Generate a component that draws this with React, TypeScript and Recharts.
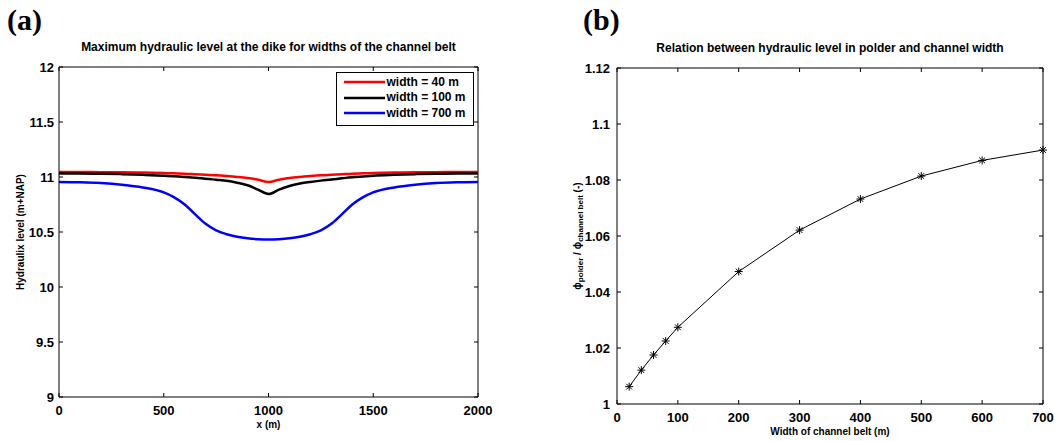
import React from 'react'
import { LineChart, Line, XAxis, YAxis, Legend, Label, ReferenceLine } from 'recharts'

// panel (a): hydraulic level along the dike
const dikeX = [0, 100, 200, 300, 400, 500, 550, 600, 650, 700, 750, 800, 850, 900, 950, 1000, 1050, 1100, 1150, 1200, 1250, 1300, 1350, 1400, 1450, 1500, 1600, 1700, 1800, 1900, 2000]
const level40 = [11.045, 11.045, 11.044, 11.043, 11.04, 11.036, 11.033, 11.03, 11.025, 11.02, 11.015, 11.008, 11.0, 10.99, 10.975, 10.955, 10.975, 10.99, 11.0, 11.008, 11.015, 11.02, 11.025, 11.03, 11.033, 11.036, 11.04, 11.043, 11.044, 11.045, 11.045]
const level100 = [11.032, 11.032, 11.03, 11.026, 11.02, 11.012, 11.006, 11.0, 10.993, 10.985, 10.975, 10.965, 10.948, 10.925, 10.885, 10.845, 10.885, 10.918, 10.94, 10.955, 10.967, 10.977, 10.988, 10.998, 11.005, 11.012, 11.02, 11.026, 11.03, 11.032, 11.032]
const level700 = [10.955, 10.952, 10.945, 10.93, 10.905, 10.86, 10.815, 10.75, 10.66, 10.575, 10.515, 10.48, 10.457, 10.443, 10.435, 10.432, 10.435, 10.443, 10.457, 10.48, 10.515, 10.575, 10.66, 10.75, 10.815, 10.86, 10.905, 10.93, 10.945, 10.952, 10.955]
const levelTicks = [9, 9.5, 10, 10.5, 11, 11.5, 12]
const dikeTicks = [0, 500, 1000, 1500, 2000]
const seriesNames = ['width = 40 m', 'width = 100 m', 'width = 700 m']

// panel (b): ratio vs channel belt width
const beltWidths = [20, 40, 60, 80, 100, 200, 300, 400, 500, 600, 700]
const levelRatio = [1.0062, 1.0121, 1.0175, 1.0225, 1.0274, 1.0473, 1.0621, 1.0732, 1.0814, 1.087, 1.0907]
const ratioTicks = [1, 1.02, 1.04, 1.06, 1.08, 1.1, 1.12]
const widthTicks = [0, 100, 200, 300, 400, 500, 600, 700]

const dikeData = dikeX.map((x, i) => ({ x, w40: level40[i], w100: level100[i], w700: level700[i] }))
const ratioData = beltWidths.map((w, i) => ({ w, r: levelRatio[i] }))

const FONT = '"Liberation Sans", Arial, Helvetica, sans-serif'
const tickStyle = { fill: '#000', fontSize: 13, fontWeight: 'bold', fontFamily: FONT } as const
const titleStyle = { fill: '#000', fontSize: 12, fontWeight: 'bold', fontFamily: FONT } as const
const fmt = (v: number) => String(+v.toFixed(2))
const TICK = 4

// matlab style ticks: short marks pointing into the plot box
function BottomTick({ x, y, payload, gap }: any) {
  const ay = y - gap
  return (
    <g>
      <line x1={x} x2={x} y1={ay} y2={ay - TICK} stroke="#000" />
      <text x={x} y={y} dy="0.71em" textAnchor="middle" style={tickStyle}>{fmt(payload.value)}</text>
    </g>
  )
}

function LeftTick({ x, y, payload, gap }: any) {
  const ax = x + gap
  return (
    <g>
      <line x1={ax} x2={ax + TICK} y1={y} y2={y} stroke="#000" />
      <text x={x} y={y} dy="0.36em" textAnchor="end" style={tickStyle}>{fmt(payload.value)}</text>
    </g>
  )
}

// tick marks on the top and right side of the box, drawn from reference lines
const topMark = (p: any) => {
  const top = Math.min(p.y1, p.y2)
  return <line x1={p.x1} x2={p.x1} y1={top} y2={top + TICK} stroke="#000" strokeWidth={1} />
}
const rightMark = (p: any) => {
  const right = Math.max(p.x1, p.x2)
  return <line x1={right} x2={right - TICK} y1={p.y1} y2={p.y1} stroke="#000" strokeWidth={1} />
}

function LegendBox({ payload }: any) {
  const items = (payload || [])
    .filter((p: any) => seriesNames.includes(p.value))
    .sort((a: any, b: any) => seriesNames.indexOf(a.value) - seriesNames.indexOf(b.value))
  return (
    <div
      style={{
        border: '1.5px solid #000',
        background: '#fff',
        boxSizing: 'border-box',
        width: 138,
        height: 54,
        paddingTop: 1.5,
        paddingLeft: 6.5,
      }}
    >
      {items.map((p: any) => (
        <div key={p.value} style={{ display: 'flex', alignItems: 'center', height: 15.5 }}>
          <svg width={43} height={6} style={{ display: 'block' }}>
            <line x1={0} x2={41} y1={3} y2={3} stroke={p.color} strokeWidth={2.5} />
          </svg>
          <span style={{ fontFamily: FONT, fontWeight: 'bold', fontSize: 12, color: '#000', lineHeight: '15px' }}>
            {p.value}
          </span>
        </div>
      ))}
    </div>
  )
}

function Star(props: any) {
  const { cx, cy } = props
  if (cx == null || cy == null) return null
  const r = 4
  const d = r * 0.72
  return (
    <g stroke="#000" strokeWidth={1}>
      <line x1={cx - r} y1={cy} x2={cx + r} y2={cy} />
      <line x1={cx} y1={cy - r} x2={cx} y2={cy + r} />
      <line x1={cx - d} y1={cy - d} x2={cx + d} y2={cy + d} />
      <line x1={cx - d} y1={cy + d} x2={cx + d} y2={cy - d} />
    </g>
  )
}

function boxFrame(xTicks: number[], yTicks: number[]) {
  const xMax = xTicks[xTicks.length - 1]
  const yMax = yTicks[yTicks.length - 1]
  return [
    <ReferenceLine key="top" y={yMax} stroke="#000" strokeWidth={1} />,
    <ReferenceLine key="right" x={xMax} stroke="#000" strokeWidth={1} />,
    ...xTicks.map((v) => <ReferenceLine key={'tx' + v} x={v} shape={topMark} />),
    ...yTicks.map((v) => <ReferenceLine key={'ty' + v} y={v} shape={rightMark} />),
  ]
}

function LevelChart() {
  return (
    <LineChart width={500} height={441} data={dikeData} margin={{ top: 66, right: 22, bottom: 13, left: 0 }}>
      <XAxis
        dataKey="x"
        type="number"
        domain={[0, 2000]}
        ticks={dikeTicks}
        interval={0}
        height={31}
        tickSize={0}
        tickMargin={9}
        tickLine={false}
        tick={<BottomTick gap={9} />}
        stroke="#000"
      >
        <Label value="x (m)" position="insideBottom" offset={0} style={{ ...titleStyle, fontSize: 10 }} />
      </XAxis>
      <XAxis xAxisId="top" orientation="top" dataKey="x" type="number" domain={[0, 2000]} height={1} tick={false} tickLine={false} axisLine={false}>
        <Label value="Maximum hydraulic level at the dike for widths of the channel belt" position="top" offset={15} style={titleStyle} />
      </XAxis>
      <YAxis
        type="number"
        domain={[9, 12]}
        ticks={levelTicks}
        interval={0}
        width={59}
        tickSize={0}
        tickMargin={5}
        tickLine={false}
        tick={<LeftTick gap={5} />}
        stroke="#000"
      >
        <Label
          content={({ viewBox }: any) => (
            <text
              transform={`translate(20, ${viewBox.y + viewBox.height / 2}) rotate(-90)`}
              textAnchor="middle"
              dominantBaseline="central"
              style={{ ...titleStyle, fontSize: 10 }}
            >
              Hydraulix level (m+NAP)
            </text>
          )}
        />
      </YAxis>
      {boxFrame(dikeTicks, levelTicks)}
      <Legend
        layout="vertical"
        align="center"
        verticalAlign="middle"
        content={<LegendBox />}
        wrapperStyle={{ position: 'absolute', top: 72, left: 336, width: 138 }}
      />
      <Line type="monotone" dataKey="w40" name={seriesNames[0]} stroke="#ff0000" strokeWidth={2.5} dot={false} isAnimationActive={false} />
      <Line type="monotone" dataKey="w100" name={seriesNames[1]} stroke="#000000" strokeWidth={2.5} dot={false} isAnimationActive={false} />
      <Line type="monotone" dataKey="w700" name={seriesNames[2]} stroke="#0000ff" strokeWidth={2.5} dot={false} isAnimationActive={false} />
    </LineChart>
  )
}

function RatioChart() {
  return (
    <LineChart width={535} height={441} data={ratioData} margin={{ top: 67, right: 12, bottom: 6, left: 0 }}>
      <XAxis
        dataKey="w"
        type="number"
        domain={[0, 700]}
        ticks={widthTicks}
        interval={0}
        height={31}
        tickSize={0}
        tickMargin={9}
        tickLine={false}
        tick={<BottomTick gap={9} />}
        stroke="#000"
      >
        <Label value="Width of channel belt (m)" position="insideBottom" offset={0} style={{ ...titleStyle, fontSize: 10 }} />
      </XAxis>
      <XAxis xAxisId="top" orientation="top" dataKey="w" type="number" domain={[0, 700]} height={1} tick={false} tickLine={false} axisLine={false}>
        <Label value="Relation between hydraulic level in polder and channel width" position="top" offset={15} style={titleStyle} />
      </XAxis>
      <YAxis
        type="number"
        domain={[1, 1.12]}
        ticks={ratioTicks}
        interval={0}
        width={97}
        tickSize={0}
        tickMargin={7}
        tickLine={false}
        tick={<LeftTick gap={7} />}
        stroke="#000"
      >
        <Label
          content={({ viewBox }: any) => (
            <text
              transform={`translate(57, ${viewBox.y + viewBox.height / 2}) rotate(-90)`}
              textAnchor="middle"
              dominantBaseline="central"
              style={{ ...titleStyle, fontSize: 10 }}
            >
              <tspan>ϕ</tspan>
              <tspan dy={3} fontSize={8}>polder</tspan>
              <tspan dy={-3}> / ϕ</tspan>
              <tspan dy={3} fontSize={8}>channel belt</tspan>
              <tspan dy={-3}> (-)</tspan>
            </text>
          )}
        />
      </YAxis>
      {boxFrame(widthTicks, ratioTicks)}
      <Line type="linear" dataKey="r" stroke="#000" strokeWidth={1} dot={<Star />} isAnimationActive={false} />
    </LineChart>
  )
}

const letterStyle: React.CSSProperties = {
  position: 'absolute',
  fontFamily: '"Liberation Serif", "Times New Roman", serif',
  fontWeight: 'bold',
  fontSize: 30,
  lineHeight: '30px',
  color: '#000',
}

export default function App() {
  return (
    <div style={{ position: 'absolute', left: 0, top: 0, width: 1055, height: 441, background: '#fff', overflow: 'hidden' }}>
      <div style={{ ...letterStyle, left: 7, top: 5 }}>(a)</div>
      <div style={{ ...letterStyle, left: 583, top: 5 }}>(b)</div>
      <div style={{ position: 'absolute', left: 0, top: 0 }}>
        <LevelChart />
      </div>
      <div style={{ position: 'absolute', left: 520, top: 0 }}>
        <RatioChart />
      </div>
    </div>
  )
}
